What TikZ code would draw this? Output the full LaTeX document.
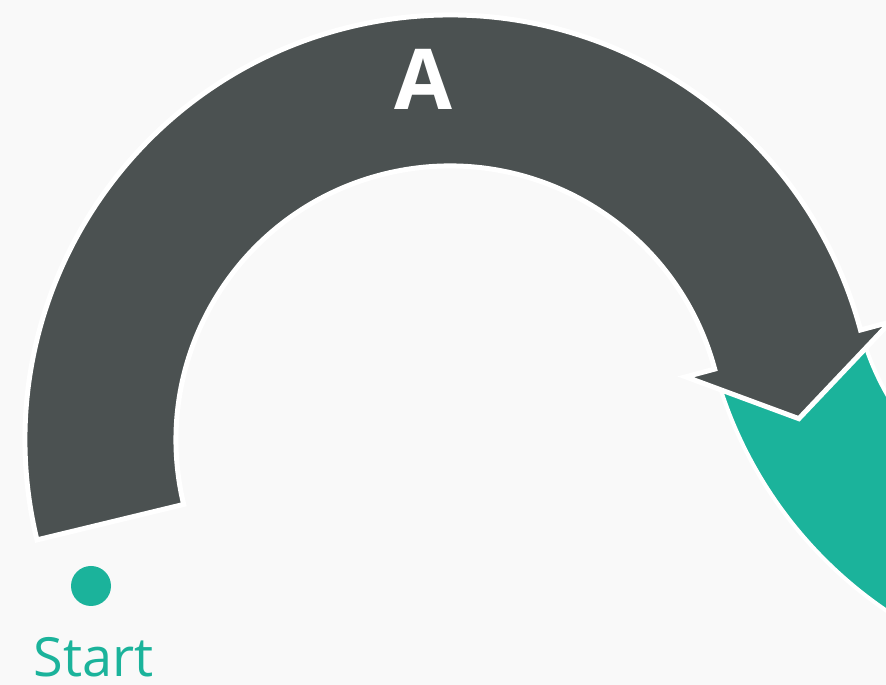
\documentclass[tikz,border=0pt]{standalone}
\usepackage{fontspec}
\setmainfont{Open Sans}
\definecolor{bgc}{HTML}{F9F9F9}
\definecolor{grayc}{HTML}{4B5151}
\definecolor{tealc}{HTML}{1BB39B}
\tikzset{
  grayband/.style={fill=grayc, draw=white, line width=5pt},
  tealband/.style={fill=tealc, draw=white, line width=4pt},
  bigletter/.style={text=white, font=\fontsize{84}{84}\selectfont\bfseries, inner sep=0pt, anchor=base},
  startlabel/.style={text=tealc, font=\fontsize{54}{54}\selectfont, inner sep=0pt, anchor=base},
  dot/.style={circle, fill=tealc, minimum size=40pt, inner sep=0pt}
}
\begin{document}
\begin{tikzpicture}[x=1pt,y=1pt]
\useasboundingbox (0,0) rectangle (886,685);
\clip (0,0) rectangle (886,685);
\fill[bgc] (0,0) rectangle (886,685);
% teal arc B (continues below the arrow head)
\begin{scope}[shift={(1125.2pt,425.9pt)}]
  \path[tealband] (195:425pt) arc[start angle=195, end angle=265, radius=425pt]
    -- (265:274pt) arc[start angle=265, end angle=195, radius=274pt] -- cycle;
\end{scope}
% gray arc arrow A
\begin{scope}[shift={(450pt,245pt)}]
  \path[grayband] (193.6:425pt) arc[start angle=193.6, end angle=15, radius=425pt]
    -- (15:456pt) -- (3.5:349.5pt) -- (15:244pt) -- (15:274pt)
    arc[start angle=15, end angle=193.6, radius=274pt] -- cycle;
\end{scope}
\node[bigletter] (lblA) at (423.5,575) {A};
\node[dot] (startdot) at (91,99) {};
\node[startlabel] (startlbl) at (93.5,8.5) {Start};
\end{tikzpicture}
\end{document}
